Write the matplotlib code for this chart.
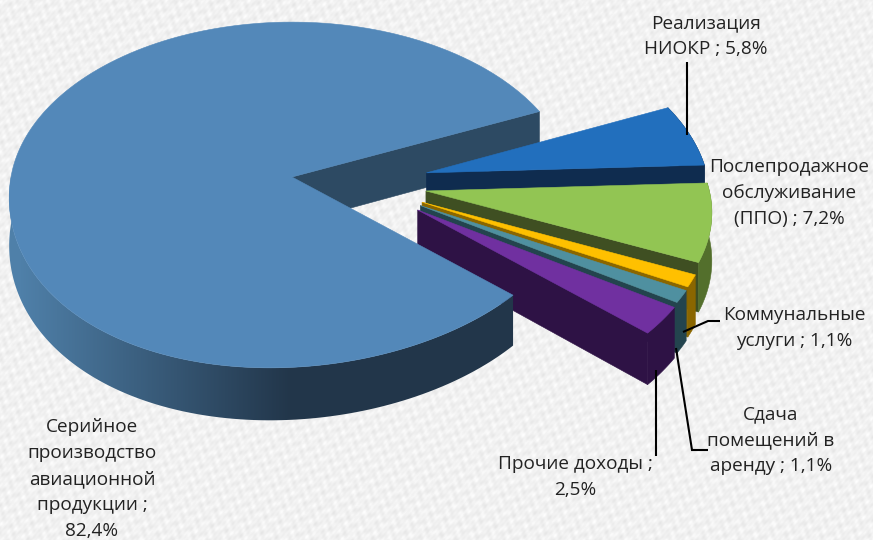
import numpy as np
import matplotlib
matplotlib.use("Agg")
import matplotlib.pyplot as plt
from matplotlib.colors import to_rgb
from matplotlib.patches import Polygon


# order goes counter-clockwise from the big slice, like the chart series
CATEGORIES = [
    "Серийное\nпроизводство\nавиационной\nпродукции ;",
    "Прочие доходы ;",
    "Сдача\nпомещений в\nаренду ;",
    "Коммунальные\nуслуги ;",
    "Послепродажное\nобслуживание\n(ППО) ;",
    "Реализация\nНИОКР ;",
]
VALUES = [82.4, 2.5, 1.1, 1.1, 7.2, 5.8]

TOP_COLORS = ["#5388b9", "#7030a0", "#4f90a0", "#ffc000", "#92c553", "#226fbd"]
WALL_COLORS = ["#2d4a63", "#2e1245", "#23444e", "#8a6600", "#3f4f22", "#0f2c4f"]
RIM_COLORS = ["#22364a", "#2e1245", "#23444e", "#8a6600", "#536f2c", "#0f2c4f"]

# label centre and first line, pixels
LABEL_POS = [(92, 428), (575, 465), (771, 415), (794, 316), (789, 168), (706, 24)]
LEADERS = [
    None,
    [(655.5, 370), (655.5, 456)],
    [(676, 348), (692, 450), (708, 450)],
    [(683, 332), (708, 321), (720, 321)],
    None,
    [(687, 135), (687, 62)],
]

# how the slices are pulled out of the pie (Excel style explosion)
EXPLODE = [0.0, 0.48, 0.48, 0.48, 0.48, 0.48]
EXPLODE_DIR = [0.0, -23.2, -20.0, -17.6, -9.7, 2.9]

START_ANGLE = 23.5
APEX_X, APEX_Y = 292, 177
RADIUS = 281
SQUASH = 171
PERSP = 0.104
SHEAR = 22
DEPTH = 47


def project(x, y, z=0.0):
    s = 1 / (1 + PERSP * y)
    # front of the pie leans a bit to the left in the original
    lean = SHEAR * np.minimum(y, 0) ** 2
    return APEX_X + RADIUS * x * s - lean, APEX_Y - SQUASH * y * s + DEPTH * z * s


def arc_points(ox, oy, a0, a1, z=0.0, n=120):
    t = np.radians(np.linspace(a0, a1, n))
    return project(ox + np.cos(t), oy + np.sin(t), z)


def paper_background(ax):
    yy, xx = np.mgrid[0:540, 0:873]
    tex = (
        np.sin(xx * 0.31 + yy * 0.47)
        + np.sin(xx * 0.53 - yy * 0.29 + 1.3)
        + 0.8 * np.sin(xx * 0.13 + yy * 0.83 + 0.4)
        + 0.8 * np.sin(xx * 0.91 - yy * 0.17 + 2.1)
        + 0.6 * np.sin(xx * 1.37 + yy * 1.13)
    )
    img = 0.945 + 0.012 * tex
    ax.imshow(img, cmap="gray", vmin=0, vmax=1, extent=(0, 873, 540, 0), zorder=0, aspect="auto")


def add_poly(ax, xs, ys, color, zorder=1):
    ax.add_patch(Polygon(np.column_stack([xs, ys]), closed=True, fc=color, ec=color, lw=0.4, zorder=zorder))


def draw_slice(ax, a0, a1, off, top, wall, rim):
    ox, oy = off
    # wall on the clockwise side, that's the one facing us
    ax0, ay0 = project(ox, oy)
    bx0, by0 = project(ox, oy, 1)
    tx, ty = arc_points(ox, oy, a0, a0, n=1)
    lx, ly = arc_points(ox, oy, a0, a0, 1, n=1)
    add_poly(ax, [ax0, tx[0], lx[0], bx0], [ay0, ty[0], ly[0], by0], wall)
    # rim
    x1, y1 = arc_points(ox, oy, a0, a1)
    x2, y2 = arc_points(ox, oy, a0, a1, 1)
    add_poly(ax, np.r_[x1, x2[::-1]], np.r_[y1, y2[::-1]], rim)
    # top
    add_poly(ax, np.r_[ax0, x1], np.r_[ay0, y1], top)


def draw_main(ax, a0, a1):
    # gradient rim of the big slice, only the front half shows
    x1, y1 = arc_points(0, 0, 180, a1, n=300)
    x2, y2 = arc_points(0, 0, 180, a1, 1, n=300)
    light, dark = np.array(to_rgb("#4f80a9")), np.array(to_rgb(RIM_COLORS[0]))
    f = np.clip((np.arange(873) - 20) / 270, 0, 1)[None, :, None]
    grad = light * (1 - f) + dark * f
    im = ax.imshow(grad, extent=(0, 873, 540, 0), zorder=1.5, aspect="auto")
    rim = Polygon(np.column_stack([np.r_[x1, x2[::-1]], np.r_[y1, y2[::-1]]]), closed=True, transform=ax.transData)
    im.set_clip_path(rim)
    x, y = arc_points(0, 0, a0, a1, n=400)
    add_poly(ax, np.r_[APEX_X, x], np.r_[APEX_Y, y], TOP_COLORS[0], zorder=2)


def main():
    plt.rcParams["font.family"] = ["Open Sans", "DejaVu Sans"]
    fig = plt.figure(figsize=(8.73, 5.4), dpi=100)
    ax = fig.add_axes([0, 0, 1, 1])
    paper_background(ax)

    spans = np.array(VALUES) / sum(VALUES) * 360
    ends = START_ANGLE + np.cumsum(spans)
    starts = ends - spans

    # main wall sits behind the pulled slices, the front of the main slice in front of them
    tx, ty = arc_points(0, 0, START_ANGLE, START_ANGLE, n=1)
    lx, ly = arc_points(0, 0, START_ANGLE, START_ANGLE, 1, n=1)
    bx, by = project(0, 0, 1)
    add_poly(ax, [APEX_X, tx[0], lx[0], bx], [APEX_Y, ty[0], ly[0], by], WALL_COLORS[0])

    for i in range(len(VALUES) - 1, 0, -1):
        t = np.radians(EXPLODE_DIR[i])
        off = (EXPLODE[i] * np.cos(t), EXPLODE[i] * np.sin(t))
        draw_slice(ax, starts[i], ends[i], off, TOP_COLORS[i], WALL_COLORS[i], RIM_COLORS[i])

    draw_main(ax, starts[0], ends[0])

    for leader in LEADERS:
        if leader:
            xs, ys = zip(*leader)
            ax.plot(xs, ys, color="black", lw=1.5, solid_capstyle="butt", solid_joinstyle="miter", zorder=3)

    for name, value, (x, y) in zip(CATEGORIES, VALUES, LABEL_POS):
        text = f"{name}\n{value:.1f}%".replace(".", ",")
        if name.count("\n") != 3 and not name.startswith("Прочие"):
            text = f"{name} {value:.1f}%".replace(".", ",")
        ax.text(x, y - 10, text, ha="center", va="top", fontsize=13.7, color="#222222", linespacing=1.57, zorder=4)

    ax.set_xlim(0, 873)
    ax.set_ylim(540, 0)
    ax.axis("off")
    fig.savefig("out.png", dpi=100)


if __name__ == "__main__":
    main()
